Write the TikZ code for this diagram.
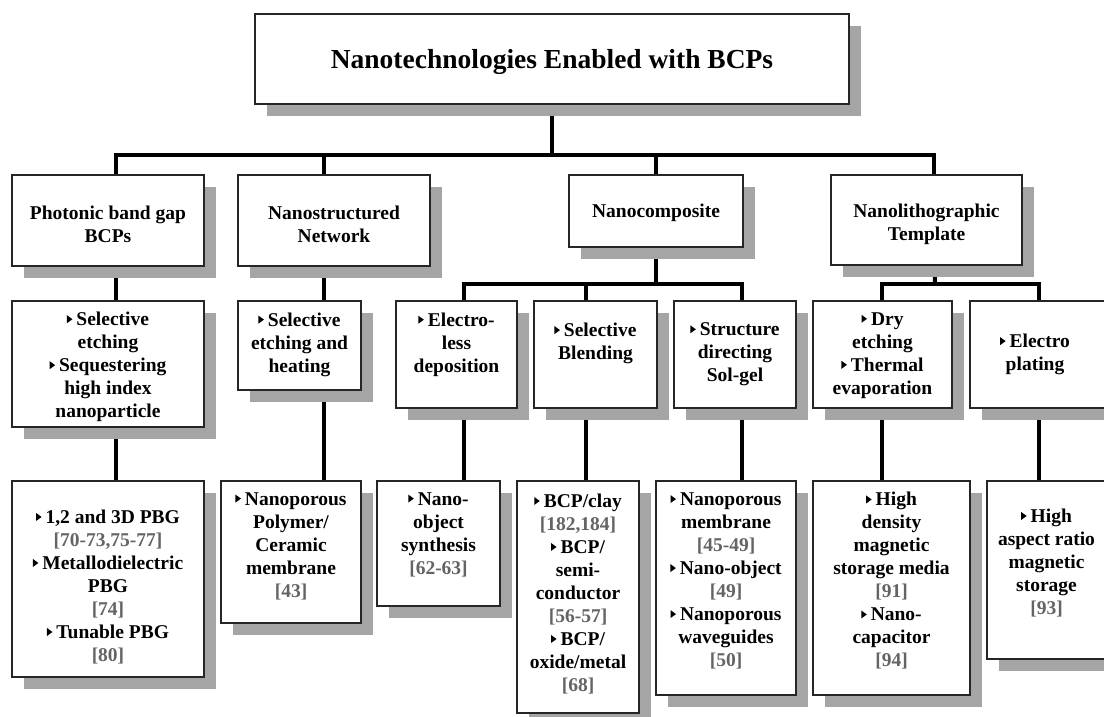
\documentclass[tikz,border=0pt]{standalone}
\usepackage{fontspec}
\setmainfont{Liberation Serif}
\usetikzlibrary{shadows,fit,backgrounds,calc}
\definecolor{shadowgray}{RGB}{165,165,165}
\definecolor{refgray}{RGB}{100,100,100}
\newcommand\tri{\tikz[baseline=0pt,x=1pt,y=1pt]\fill[black] (0,2.5)--(0,10.5)--(5.5,6.5)--cycle;\hspace{4pt}}
\newcommand\refg[1]{\textcolor{refgray}{#1}}
\newcommand\bx[7]{%
  \coordinate (#1-nw) at (#2,#3);
  \coordinate (#1-se) at (#4,#5);
  \node[boxst, fit=(#1-nw)(#1-se)] (#1) {};
  \node[txt] (#1-t) at ($(#1.center)+(#6)$) {#7};}
\tikzset{
  boxst/.style={draw=black!85, line width=1.3pt, fill=white, inner sep=0pt,
    drop shadow={shadow xshift=12pt, shadow yshift=-12pt, fill=shadowgray, opacity=1}},
  txt/.style={align=center, font=\bfseries\fontsize{19.5}{23}\selectfont, inner sep=0pt},
  conn/.style={line width=4pt, draw=black, line join=miter}
}
\begin{document}
\begin{tikzpicture}[x=1pt,y=-1pt]
\useasboundingbox (0,0) rectangle (1104,716);
\clip (0,0) rectangle (1104,716);
% level 1
\coordinate (T-nw) at (255,14);
\coordinate (T-se) at (849,104);
\node[boxst, fit=(T-nw)(T-se)] (T) {};
\node[txt, font=\bfseries\fontsize{27.5}{30}\selectfont] (T-t) at ($(T.center)+(0,3)$) {Nanotechnologies Enabled with BCPs};
% level 2
\bx{A2}{12}{175}{204}{266}{0,4}{Photonic band gap\\BCPs}
\bx{B2}{238}{175}{430}{266}{0,4}{Nanostructured\\Network}
\bx{C2}{569}{175}{743}{247}{0,2}{Nanocomposite}
\bx{D2}{831}{175}{1022}{265}{0,4}{Nanolithographic\\Template}
% level 3
\bx{A3}{12}{301}{204}{427}{0,3}{\tri Selective\\etching\\\tri Sequestering\\high index\\nanoparticle}
\bx{B3}{238}{301}{361}{390}{0,-1}{\tri Selective\\etching and\\heating}
\bx{C3a}{396}{301}{517}{408}{0,-10}{\tri Electro-\\less\\deposition}
\bx{C3b}{534}{301}{657}{408}{0,-11}{\tri Selective\\Blending}
\bx{C3c}{674}{301}{796}{408}{0,0}{\tri Structure\\directing\\Sol-gel}
\bx{D3a}{813}{301}{952}{408}{0,1}{\tri Dry\\etching\\\tri Thermal\\evaporation}
\bx{D3b}{970}{301}{1108}{408}{-4,0}{\tri Electro\\plating}
% level 4
\bx{A4}{12}{481}{204}{677}{0,8}{\tri 1,2 and 3D PBG\\\refg{[70-73,75-77]}\\\tri Metallodielectric\\PBG\\\refg{[74]}\\\tri Tunable PBG\\\refg{[80]}}
\bx{B4}{221}{481}{361}{623}{0,-6}{\tri Nanoporous\\Polymer/\\Ceramic\\membrane\\\refg{[43]}}
\bx{C4a}{377}{481}{500}{606}{0,-9}{\tri Nano-\\object\\synthesis\\\refg{[62-63]}}
\bx{C4b}{517}{481}{639}{713}{0,-3}{\tri BCP/clay\\\refg{[182,184]}\\\tri BCP/\\semi-\\conductor\\\refg{[56-57]}\\\tri BCP/\\oxide/metal\\\refg{[68]}}
\bx{C4c}{656}{481}{796}{695}{0,-7}{\tri Nanoporous\\membrane\\\refg{[45-49]}\\\tri Nano-object\\\refg{[49]}\\\tri Nanoporous\\waveguides\\\refg{[50]}}
\bx{D4a}{813}{481}{970}{695}{0,-7}{\tri High\\density\\magnetic\\storage media\\\refg{[91]}\\\tri Nano-\\capacitor\\\refg{[94]}}
\bx{D4b}{987}{481}{1106}{659}{0,-7}{\tri High\\aspect ratio\\magnetic\\storage\\\refg{[93]}}
% connectors
\begin{scope}[on background layer]
\coordinate (bar) at (552,155);
\coordinate (cbar) at (656,284);
\coordinate (dbar) at (935,284);
\draw[conn] (T.south) -- (bar);
\draw[conn] ([xshift=105pt]A2.north west) |- (bar) -| ([xshift=104pt]D2.north west);
\draw[conn] ([xshift=87pt]B2.north west) |- (bar);
\draw[conn] (C2.north) |- (bar);
\draw[conn] (C2.south) -- (cbar);
\draw[conn] ([xshift=69pt]C3a.north west) |- (cbar) -| ([xshift=69pt]C3c.north west);
\draw[conn] ([xshift=53pt]C3b.north west) |- (cbar);
\draw[conn] ([xshift=104pt]D2.south west) -- (dbar);
\draw[conn] ([xshift=70pt]D3a.north west) |- (dbar) -| ([xshift=70pt]D3b.north west);
\draw[conn] ([xshift=105pt]A2.south west) -- ([xshift=105pt]A3.north west);
\draw[conn] ([xshift=105pt]A3.south west) -- ([xshift=105pt]A4.north west);
\draw[conn] ([xshift=87pt]B2.south west) -- ([xshift=87pt]B3.north west);
\draw[conn] ([xshift=87pt]B3.south west) -- ([xshift=104pt]B4.north west);
\draw[conn] ([xshift=69pt]C3a.south west) -- ([xshift=88pt]C4a.north west);
\draw[conn] ([xshift=53pt]C3b.south west) -- ([xshift=70pt]C4b.north west);
\draw[conn] ([xshift=69pt]C3c.south west) -- ([xshift=87pt]C4c.north west);
\draw[conn] ([xshift=70pt]D3a.south west) -- ([xshift=70pt]D4a.north west);
\draw[conn] ([xshift=70pt]D3b.south west) -- ([xshift=53pt]D4b.north west);
\end{scope}
\end{tikzpicture}
\end{document}
